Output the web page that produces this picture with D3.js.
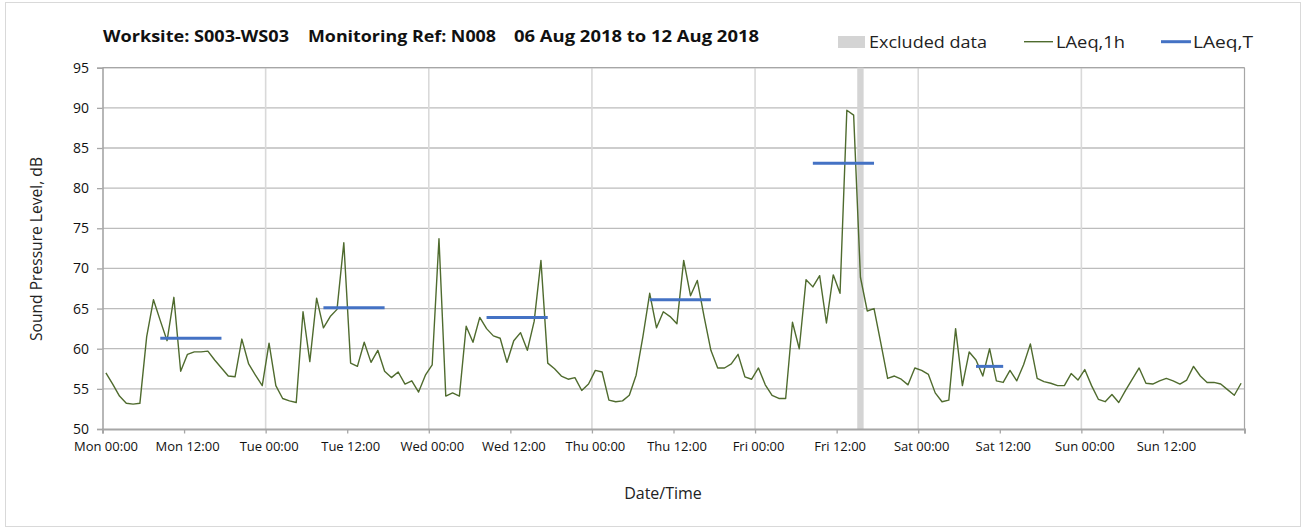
<!DOCTYPE html>
<html><head><meta charset="utf-8">
<script src="https://cdn.jsdelivr.net/npm/d3@7"></script>
<style>
body{margin:0;background:#fff;}
svg{display:block;font-family:"Open Sans",sans-serif;}
</style></head>
<body><svg id="c" width="1307" height="530"></svg>
<script>
// Hourly LAeq,1h values, Mon 00:00 -> Sun 23:00
const laeq1h = [
57.0,55.6,54.1,53.2,53.1,53.2,61.5,66.1,63.5,61.0,66.4,57.2,59.3,59.6,59.6,59.7,58.6,57.6,56.6,56.5,61.2,58.1,56.7,55.4,
60.7,55.4,53.8,53.5,53.3,64.6,58.4,66.3,62.6,64.0,64.9,73.2,58.2,57.8,60.8,58.3,59.8,57.2,56.4,57.1,55.6,56.0,54.6,56.7,
58.0,73.7,54.1,54.5,54.1,62.8,60.8,63.9,62.5,61.6,61.3,58.3,61.0,62.0,59.8,63.4,71.0,58.2,57.5,56.6,56.2,56.4,54.8,55.6,
57.3,57.1,53.6,53.4,53.5,54.2,56.7,61.5,66.9,62.6,64.6,64.0,63.1,71.0,66.6,68.5,64.0,59.8,57.6,57.6,58.1,59.3,56.5,56.2,
57.6,55.5,54.2,53.8,53.8,63.3,60.0,68.6,67.7,69.1,63.2,69.2,66.9,89.7,89.1,68.9,64.7,65.0,60.7,56.3,56.6,56.2,55.5,57.6,
57.3,56.8,54.5,53.4,53.6,62.5,55.4,59.6,58.6,56.6,60.0,56.0,55.8,57.3,56.0,58.0,60.6,56.3,55.9,55.7,55.4,55.4,56.9,56.1,
57.4,55.4,53.7,53.4,54.3,53.3,54.8,56.2,57.6,55.7,55.6,56.0,56.3,56.0,55.6,56.1,57.8,56.6,55.8,55.8,55.6,54.9,54.2,55.7
];
// LAeq,T periods (hour index start/end) and levels
const periodStart = [8, 32, 56, 80, 104, 128];
const periodEnd   = [17, 41, 65, 89, 113, 132];
const laeqT       = [61.3, 65.1, 63.9, 66.1, 83.1, 57.8];
// Excluded hours
const excludedHours = [111];
// Axis tick values / labels
const yTicks = [50,55,60,65,70,75,80,85,90,95];
const xTickHours = [0,12,24,36,48,60,72,84,96,108,120,132,144,156];
const xTickLabels = ["Mon 00:00","Mon 12:00","Tue 00:00","Tue 12:00","Wed 00:00","Wed 12:00","Thu 00:00","Thu 12:00","Fri 00:00","Fri 12:00","Sat 00:00","Sat 12:00","Sun 00:00","Sun 12:00"];
const dayHours = [24,48,72,96,120,144];

const svg = d3.select("#c");
const L=102.5, R=1244.5, T=67.7, B=429;
const x = d3.scaleLinear().domain([0,168]).range([L,R]);
const y = d3.scaleLinear().domain([50,95]).range([B,T]);
const hw = x(1)-x(0);

// outer border
svg.append("rect").attr("x",5.5).attr("y",2.5).attr("width",1295).attr("height",524)
  .attr("fill","#fff").attr("stroke","#d9d9d9").attr("stroke-width",1);

// horizontal gridlines
svg.append("g").selectAll("line").data(yTicks.filter(v=>v>50)).join("line")
  .attr("x1",L).attr("x2",R).attr("y1",d=>y(d)).attr("y2",d=>y(d))
  .attr("stroke","#bcbcbc").attr("stroke-width",1.3);
// vertical day gridlines
svg.append("g").selectAll("line").data(dayHours).join("line")
  .attr("x1",d=>x(d)).attr("x2",d=>x(d)).attr("y1",T).attr("y2",B)
  .attr("stroke","#d9d9d9").attr("stroke-width",1.6);
// right/top border
svg.append("line").attr("x1",R).attr("x2",R).attr("y1",T).attr("y2",B).attr("stroke","#a6a6a6").attr("stroke-width",1.2);
svg.append("line").attr("x1",L).attr("x2",R).attr("y1",T).attr("y2",T).attr("stroke","#a6a6a6").attr("stroke-width",1.2);

// excluded band
svg.append("g").selectAll("rect").data(excludedHours).join("rect")
  .attr("x",d=>x(d+0.5)-hw*0.47).attr("width",hw*0.94).attr("y",T).attr("height",B-T)
  .attr("fill","#d4d4d4");

// axes
const yAxis = d3.axisLeft(y).tickValues(yTicks).tickSize(5.5).tickPadding(8).tickFormat(d3.format("d"));
const gy = svg.append("g").attr("transform",`translate(${L},0)`).call(yAxis);
gy.select(".domain").attr("stroke","#a6a6a6").attr("stroke-width",1.6);
gy.selectAll(".tick line").attr("stroke","#a6a6a6").attr("stroke-width",1.3);
gy.selectAll(".tick text").attr("font-size",14).attr("fill","#111").attr("font-family","'Open Sans',sans-serif");

const xAxis = d3.axisBottom(x).tickValues(xTickHours.concat([168])).tickSize(4.5).tickPadding(8)
  .tickFormat((d,i)=> i<xTickLabels.length ? xTickLabels[i] : "");
const gx = svg.append("g").attr("transform",`translate(0,${B})`).call(xAxis);
gx.select(".domain").attr("stroke","#a6a6a6").attr("stroke-width",2);
gx.selectAll(".tick line").attr("stroke","#a6a6a6").attr("stroke-width",1.3);
gx.selectAll(".tick text").attr("font-size",13).attr("fill","#111").attr("dx",3).attr("font-family","'Open Sans',sans-serif");

// LAeq,1h line
const line = d3.line().x((d,i)=>x(i+0.5)).y(d=>y(d));
svg.append("path").datum(laeq1h).attr("d",line).attr("fill","none")
  .attr("stroke","#4f6b2e").attr("stroke-width",1.4).attr("stroke-linejoin","round");

// LAeq,T lines
const tl = d3.line().x(d=>x(d[0]+0.5)).y(d=>y(d[1]));
svg.append("g").selectAll("path").data(laeqT.map((v,i)=>[[periodStart[i],v],[periodEnd[i],v]])).join("path")
  .attr("d",tl).attr("fill","none").attr("stroke","#4472c4").attr("stroke-width",3);

// title
const title = [["Worksite: S003-WS03",103,186],["Monitoring Ref: N008",308,188],["06 Aug 2018 to 12 Aug 2018",514,245]];
svg.append("g").selectAll("text").data(title).join("text")
  .attr("x",d=>d[1]).attr("y",42).attr("font-size",16).attr("font-weight","bold").attr("fill","#111")
  .attr("textLength",d=>d[2]).attr("lengthAdjust","spacingAndGlyphs").text(d=>d[0]);

// legend
const lg = svg.append("g");
lg.append("rect").attr("x",838).attr("y",36).attr("width",27).attr("height",12).attr("fill","#d4d4d4");
lg.append("text").attr("x",869).attr("y",47.5).attr("font-size",17).attr("fill","#222")
  .attr("textLength",118).attr("lengthAdjust","spacingAndGlyphs").text("Excluded data");
lg.append("line").attr("x1",1024).attr("x2",1053).attr("y1",41.7).attr("y2",41.7).attr("stroke","#4f6b2e").attr("stroke-width",1.4);
lg.append("text").attr("x",1056).attr("y",47.5).attr("font-size",17).attr("fill","#222")
  .attr("textLength",69).attr("lengthAdjust","spacingAndGlyphs").text("LAeq,1h");
lg.append("line").attr("x1",1161).attr("x2",1191).attr("y1",41.7).attr("y2",41.7).attr("stroke","#4472c4").attr("stroke-width",3);
lg.append("text").attr("x",1193).attr("y",47.5).attr("font-size",17).attr("fill","#222")
  .attr("textLength",60).attr("lengthAdjust","spacingAndGlyphs").text("LAeq,T");

// axis titles
svg.append("text").attr("transform","translate(42,249) rotate(-90)").attr("text-anchor","middle")
  .attr("font-size",16).attr("fill","#222").attr("textLength",184).attr("lengthAdjust","spacingAndGlyphs")
  .text("Sound Pressure Level, dB");
svg.append("text").attr("x",663).attr("y",499).attr("text-anchor","middle")
  .attr("font-size",16).attr("fill","#222").text("Date/Time");
</script></body></html>
